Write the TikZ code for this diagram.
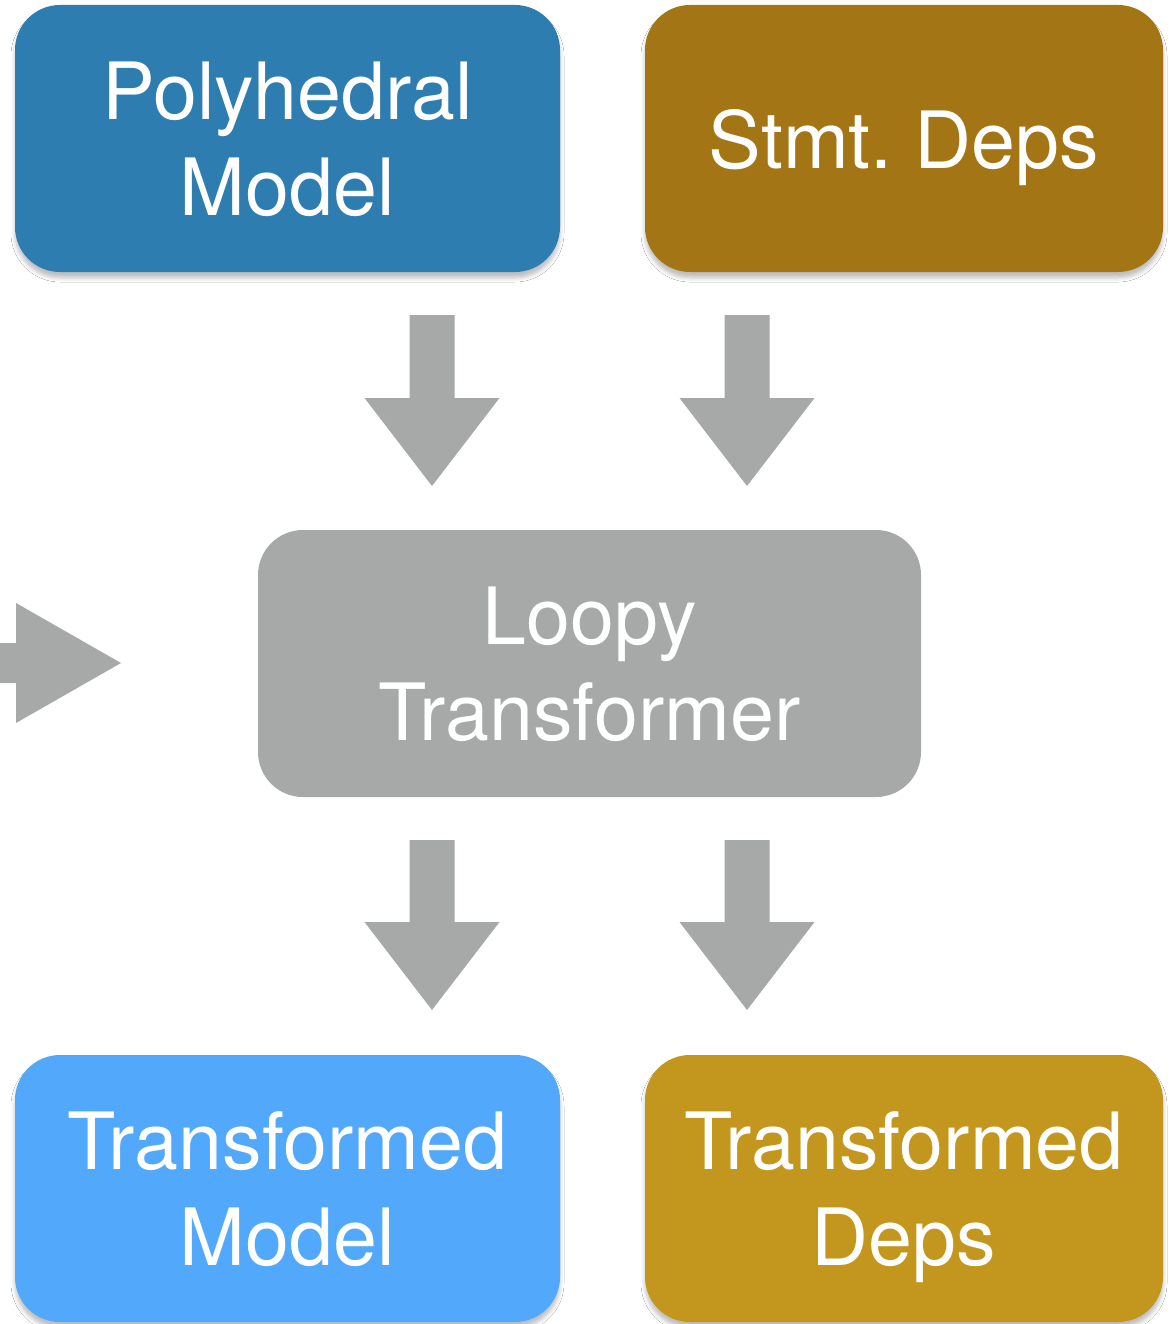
\documentclass[tikz,border=0pt]{standalone}
\usepackage{fontspec}
\setmainfont{TeX Gyre Heros}
\usetikzlibrary{calc,shadows.blur}
\definecolor{polyblue}{RGB}{46,125,176}
\definecolor{depbrown}{RGB}{163,117,20}
\definecolor{loopgray}{RGB}{166,169,168}
\definecolor{tmblue}{RGB}{82,168,250}
\definecolor{tdgold}{RGB}{195,150,29}
\tikzset{
  box/.style={rectangle, rounded corners=45pt, draw=none, text=white, align=center,
    font=\fontsize{79}{96}\selectfont, inner sep=0pt, minimum height=267pt, text depth=0pt},
  shad/.style={blur shadow={shadow xshift=0pt, shadow yshift=-6pt, shadow opacity=25, shadow blur radius=4pt}},
  blockarrow/.style={fill=loopgray, draw=none}
}
\begin{document}
\begin{tikzpicture}[x=1pt,y=-1pt]
\useasboundingbox (0,0) rectangle (1172,1324);
\fill[white] (0,0) rectangle (1172,1324);
% boxes
\node[box, shad, fill=polyblue, minimum width=545pt] (poly) at (287.5,138.5) {Polyhedral\\Model};
\node[box, shad, fill=depbrown, minimum width=518pt] (deps) at (904,138.5) {Stmt.\ Deps};
\node[box, fill=loopgray, minimum width=663pt] (loopy) at (589.5,663.5) {Loopy\\Transformer};
\node[box, shad, fill=tmblue, minimum width=545pt] (tmodel) at (287.5,1188.5) {Transformed\\Model};
\node[box, shad, fill=tdgold, minimum width=518pt] (tdeps) at (904,1188.5) {Transformed\\Deps};
% arrow end points
\coordinate (a1s) at (432,315);  \coordinate (a1e) at (432,486);
\coordinate (a2s) at (747,315);  \coordinate (a2e) at (747,486);
\coordinate (a3s) at (432,840);  \coordinate (a3e) at (432,1010);
\coordinate (a4s) at (747,840);  \coordinate (a4e) at (747,1010);
\foreach \s/\e in {a1s/a1e, a2s/a2e, a3s/a3e, a4s/a4e}{
  \fill[blockarrow] ($(\s)+(-22.5,0)$) -- ($(\s)+(22.5,0)$) -- ($(\e)+(22.5,-88)$)
    -- ($(\e)+(67.5,-88)$) -- (\e) -- ($(\e)+(-67.5,-88)$) -- ($(\e)+(-22.5,-88)$) -- cycle;
}
% left arrow
\coordinate (ls) at (0,663); \coordinate (le) at (121,663);
\fill[blockarrow] ($(ls)+(0,-20)$) -- ($(le)+(-105,-20)$) -- ($(le)+(-105,-60)$) -- (le)
  -- ($(le)+(-105,60)$) -- ($(le)+(-105,20)$) -- ($(ls)+(0,20)$) -- cycle;
\end{tikzpicture}
\end{document}
